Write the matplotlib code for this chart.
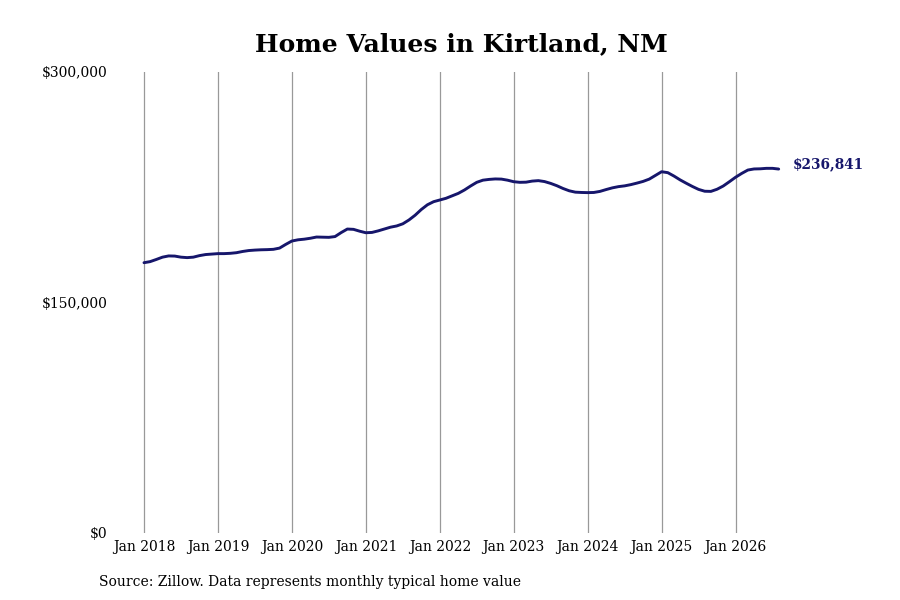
import matplotlib
matplotlib.use("Agg")
import matplotlib.pyplot as plt

# monthly typical home value, Jan 2018 .. Aug 2026
values = [
    175900, 176600, 178000, 179500, 180300, 180200, 179500, 179200, 179500, 180500, 181200, 181500,  # 2018
    181800, 181800, 182000, 182400, 183200, 183800, 184100, 184300, 184400, 184600, 185400, 187800,  # 2019
    190000, 190800, 191200, 191800, 192600, 192500, 192400, 192900, 195500, 197800, 197600, 196400,  # 2020
    195400, 195600, 196600, 197800, 199000, 199800, 201200, 203700, 206800, 210500, 213600, 215600,  # 2021
    216700, 217800, 219400, 221000, 223200, 225800, 228200, 229600, 230100, 230400, 230300, 229600,  # 2022
    228600, 228200, 228300, 229000, 229300, 228700, 227500, 226000, 224200, 222700, 221800, 221600,  # 2023
    221500, 221600, 222300, 223500, 224600, 225400, 225900, 226700, 227700, 228800, 230300, 232700,  # 2024
    235100, 234500, 232300, 229800, 227600, 225500, 223600, 222400, 222300, 223700, 225800, 228600,  # 2025
    231500, 234000, 236200, 236900, 237000, 237300, 237300, 236841,                                  # 2026
]
years = list(range(2018, 2027))
tick_labels = [f"Jan {y}" for y in years]
yticks = [0, 150000, 300000]
ytick_labels = ["$0", "$150,000", "$300,000"]

navy = "#16166b"
plt.rcParams["font.family"] = "DejaVu Serif"

fig = plt.figure(figsize=(9, 6), dpi=100)
ax = fig.add_axes([0.13, 0.1117, 0.74, 0.7683])

months = list(range(len(values)))
ax.plot(months, values, color=navy, linewidth=2.1, solid_capstyle="round")

ax.set_xlim(-4.38, 103.7)
ax.set_ylim(0, 300000)
ax.set_xticks([12 * i for i in range(len(years))])
ax.set_xticklabels(tick_labels, fontsize=10)
ax.set_yticks(yticks)
ax.set_yticklabels(ytick_labels, fontsize=10)
ax.tick_params(axis="x", length=0, pad=5)
ax.tick_params(axis="y", length=0, pad=7)
ax.grid(axis="x", color="#999999", linewidth=0.9)
ax.grid(axis="y", visible=False)
for s in ax.spines.values():
    s.set_visible(False)

ax.annotate(f"${values[-1]:,}", xy=(months[-1], values[-1]), xytext=(10, 3.5),
            textcoords="offset points", color=navy, fontsize=9.8,
            fontweight="bold", va="center", ha="left")

fig.text(461 / 900, 1 - 44 / 600, "Home Values in Kirtland, NM", ha="center",
         va="center", fontsize=18, fontweight="bold")
fig.text(99 / 900, 1 - 582 / 600, "Source: Zillow. Data represents monthly typical home value",
         ha="left", va="center", fontsize=10)

fig.savefig("out.png", dpi=100)
